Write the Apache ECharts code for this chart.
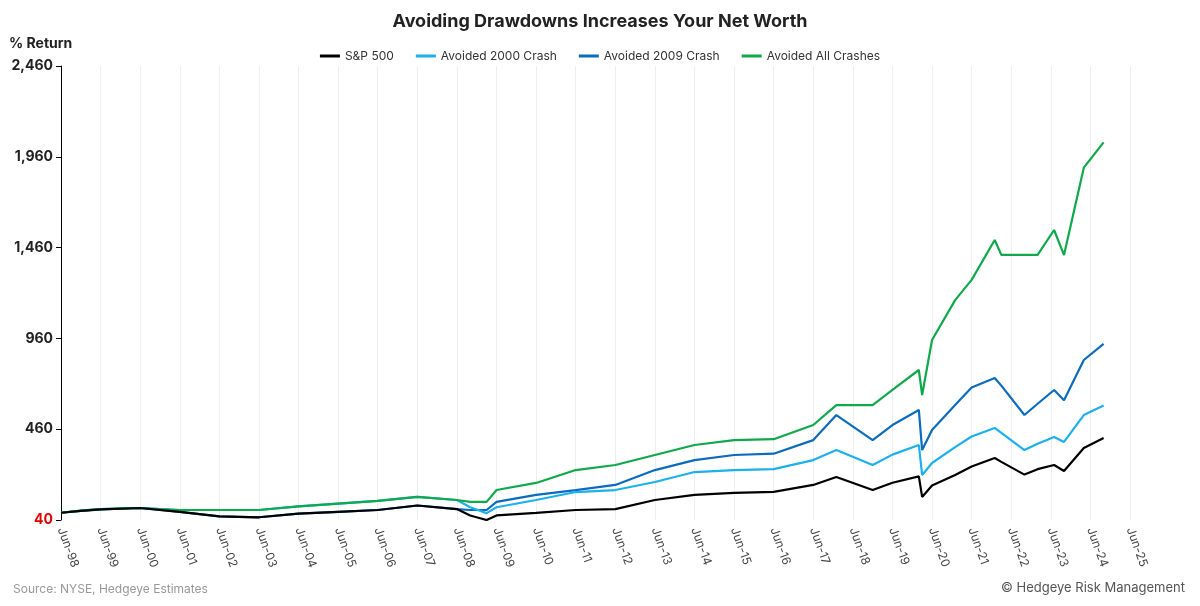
<!DOCTYPE html>
<html>
<head>
<meta charset="utf-8">
<script src="https://cdn.jsdelivr.net/npm/echarts@6/dist/echarts.min.js"></script>
<style>html,body{margin:0;padding:0;background:#fff}#chart{width:1200px;height:606px}</style>
</head>
<body>
<div id="chart"></div>
<script>
// months since Jun-98
const months =    [0, 6, 12, 24, 36, 48, 60, 72, 84, 96, 108, 120, 124, 129, 132, 144, 156, 168, 180, 192, 204, 216, 228, 235, 246, 252, 260, 261, 264, 271, 276, 283, 285, 292, 296, 301, 304, 310, 316]
const spx =       [0, 10, 18, 26, 5, -20, -25, -5, 5, 15, 40, 20, -15, -40, -15, -1, 15, 20, 70, 98, 109, 115, 153, 197, 125, 165, 200, 87, 150, 208, 255, 301, 280, 210, 240, 263, 230, 356, 411.31]
const avoid2000 = [0, 12, 20, 26, 15, 15, 15, 35, 50, 65, 87, 70, 30, -2, 30, 70, 114, 125, 169, 224, 235, 240, 290, 345, 263, 320, 373, 208, 274, 361, 420, 467, 440, 345, 380, 417, 390, 538, 590.76]
const avoid2009 = [0, 10, 18, 26, 5, -20, -25, -5, 5, 15, 40, 20, 15, 15, 60, 98, 125, 153, 235, 290, 318, 325, 400, 538, 400, 483, 566, 345, 455, 593, 690, 742, 700, 538, 600, 676, 620, 841, 930.17]
const avoidAll =  [0, 12, 20, 26, 15, 15, 15, 35, 50, 65, 87, 70, 60, 60, 125, 164, 235, 263, 318, 373, 400, 405, 483, 593, 593, 676, 786, 648, 951, 1171, 1282, 1502, 1420, 1420, 1420, 1557, 1419, 1900, 2039.52]
const names = ['S&P 500', 'Avoided 2000 Crash', 'Avoided 2009 Crash', 'Avoided All Crashes']
const colors = ['#000000', '#1cb0ec', '#0b6bbd', '#10a84c']
const yTicks = ['40', '460', '960', '1,460', '1,960', '2,460']

const seriesValues = [spx, avoid2000, avoid2009, avoidAll]
const labelPos = [
  { position: 'right', offset: [6, -12] },
  { position: 'top', offset: [12, -4] },
  { position: 'top', offset: [0, -4] },
  { position: 'top', offset: [-8, -4] }
]

function fmt(v) {
  return v.toLocaleString('en-US', { minimumFractionDigits: 2, maximumFractionDigits: 2 })
}

const series = seriesValues.map((vals, i) => {
  const last = vals.length - 1
  const data = months.map((m, k) => {
    if (k !== last) return [m, vals[k]]
    return {
      value: [m, vals[k]],
      label: Object.assign({
        show: true, formatter: fmt(vals[k]), color: colors[i],
        fontSize: 15, fontWeight: 'bold', fontFamily: 'Inter'
      }, labelPos[i])
    }
  })
  return {
    name: names[i], type: 'line', data, symbol: 'none', showSymbol: false,
    lineStyle: { color: colors[i], width: 2.2 }, itemStyle: { color: colors[i] },
    z: i === 0 ? 5 : (i === 3 ? 4 : 4 - i)
  }
})

const chart = echarts.init(document.getElementById('chart'))
chart.setOption({
  animation: false,
  textStyle: { fontFamily: 'Inter' },
  title: [
    { text: 'Avoiding Drawdowns Increases Your Net Worth', left: 'center', top: 8,
      textStyle: { fontSize: 18, fontWeight: 'bold', color: '#222' } },
    { text: '% Return', left: 4, top: 32, textStyle: { fontSize: 14, fontWeight: 'bold', color: '#222' } },
    { text: 'Source: NYSE, Hedgeye Estimates', left: 8, bottom: 6, textStyle: { fontSize: 12, fontWeight: 'normal', color: '#999' } },
    { text: '© Hedgeye Risk Management', right: 10, bottom: 6, textStyle: { fontSize: 13, fontWeight: 'normal', color: '#555' } }
  ],
  legend: {
    top: 45, left: 'center', itemWidth: 20, itemHeight: 3, itemGap: 22, icon: 'rect',
    textStyle: { fontSize: 12, color: '#333' },
    data: names
  },
  grid: { left: 61, right: 70, top: 66, bottom: 86 },
  xAxis: {
    type: 'value', min: 0, max: 324, interval: 12,
    axisLine: { show: false }, axisTick: { show: false },
    splitLine: { show: true, lineStyle: { color: '#eeeeee' } },
    axisLabel: {
      rotate: -70, color: '#444', fontSize: 12, margin: 8,
      formatter: v => 'Jun-' + String((98 + v / 12) % 100).padStart(2, '0')
    }
  },
  yAxis: {
    type: 'value', min: -40, max: 2460, interval: 500,
    axisLine: { show: true, lineStyle: { color: '#000' } },
    axisTick: { show: true, length: 5, lineStyle: { color: '#000' } },
    splitLine: { show: false },
    axisLabel: {
      fontSize: 14, fontWeight: 'bold', color: '#222',
      formatter: v => {
        const i = Math.round((v + 40) / 500)
        return i === 0 ? '{red|' + yTicks[0] + '}' : yTicks[i]
      },
      rich: { red: { color: '#e00000', fontSize: 14, fontWeight: 'bold' } }
    }
  },
  series
})
</script>
</body>
</html>
